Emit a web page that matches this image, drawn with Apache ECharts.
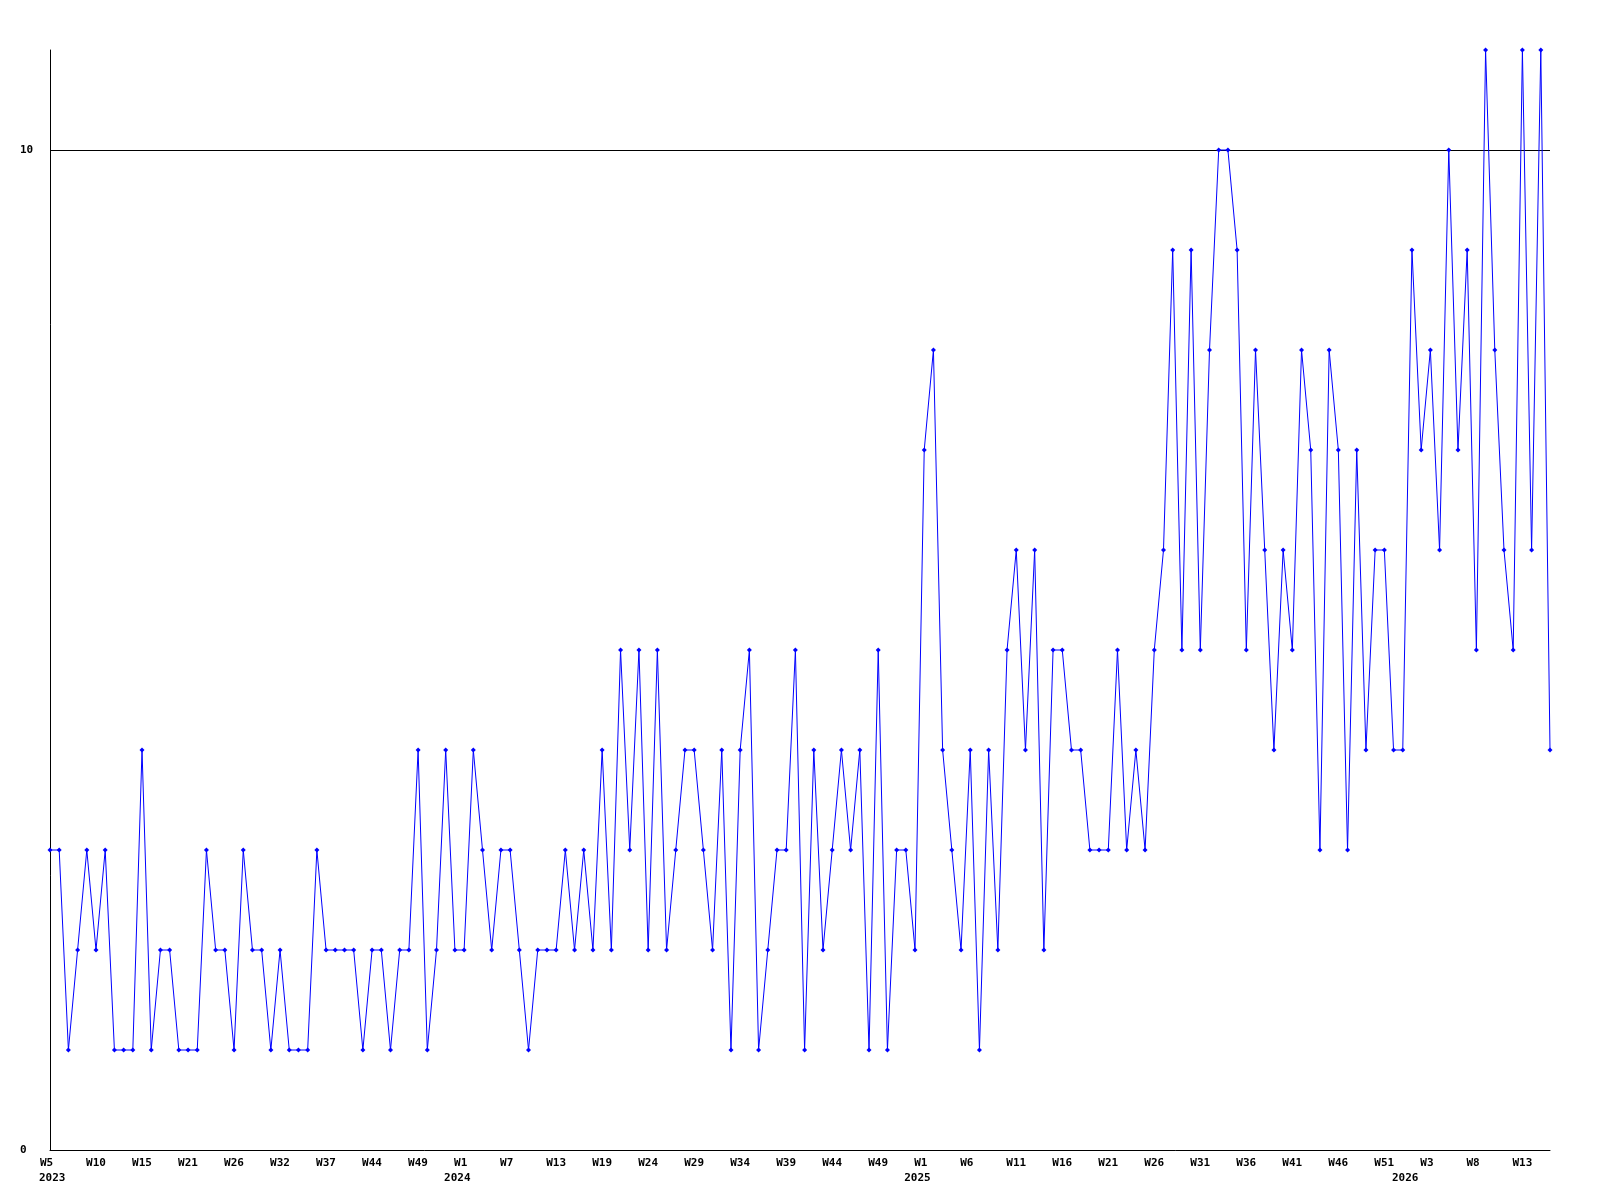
<!DOCTYPE html>
<html>
<head>
<meta charset="utf-8">
<script src="https://cdn.jsdelivr.net/npm/echarts@6/dist/echarts.min.js"></script>
<style>html,body{margin:0;padding:0;background:#fff}#c{width:1600px;height:1200px}</style>
</head>
<body>
<div id="c"></div>
<script>
// Weekly values, 2023 W5 onward (164 points)
const values = [
  3,3,1,2,3,2,3,1,1,1,
  4,1,2,2,1,1,1,3,2,2,
  1,3,2,2,1,2,1,1,1,3,
  2,2,2,2,1,2,2,1,2,2,
  4,1,2,4,2,2,4,3,2,3,
  3,2,1,2,2,2,3,2,3,2,
  4,2,5,3,5,2,5,2,3,4,
  4,3,2,4,1,4,5,1,2,3,
  3,5,1,4,2,3,4,3,4,1,
  5,1,3,3,2,7,8,4,3,2,
  4,1,4,2,5,6,4,6,2,5,
  5,4,4,3,3,3,5,3,4,3,
  5,6,9,5,9,5,8,10,10,9,
  5,8,6,4,6,5,8,7,3,8,
  7,3,7,4,6,6,4,4,9,7,
  8,6,10,7,9,5,11,8,6,5,
  11,6,11,4
];
// Week tick labels, one every 5 points
const tickLabels = ['W5','W10','W15','W21','W26','W32','W37','W44','W49','W1','W7','W13','W19','W24','W29','W34','W39','W44','W49','W1','W6','W11','W16','W21','W26','W31','W36','W41','W46','W51','W3','W8','W13'];
const tickEvery = 5;
// Year labels and the point index of the first week of each year
const yearLabels = ['2023','2024','2025','2026'];
const yearStarts = [0, 45, 95, 148];

const yMin = 0, yMax = 11, yStep = 10;

const categories = values.map((_, i) => String(i));
const font = { fontFamily: 'DejaVu Sans Mono', fontSize: 11, fontWeight: 'bold', color: '#000' };

const chart = echarts.init(document.getElementById('c'), null, { renderer: 'canvas' });
chart.setOption({
  animation: false,
  backgroundColor: '#fff',
  grid: { left: 50, right: 50, top: 50, bottom: 50, containLabel: false, outerBoundsMode: 'none' },
  xAxis: [
    {
      type: 'category',
      data: categories,
      boundaryGap: false,
      position: 'bottom',
      axisLine: { show: true, lineStyle: { color: '#000', width: 1 } },
      axisTick: { show: false },
      splitLine: { show: false },
      axisLabel: Object.assign({
        interval: (i) => i % tickEvery === 0,
        formatter: (v, i) => '{w|' + (tickLabels[i / tickEvery] || '') + '}',
        margin: 6,
        lineHeight: 15,
        rich: { w: Object.assign({ width: 20, align: 'left', lineHeight: 15 }, font) }
      }, font)
    },
    {
      type: 'category',
      data: categories,
      boundaryGap: false,
      position: 'bottom',
      offset: 0,
      axisLine: { show: false },
      axisTick: { show: false },
      splitLine: { show: false },
      axisLabel: Object.assign({
        interval: (i) => yearStarts.indexOf(i) >= 0,
        formatter: (v, i) => (i === 0 ? '{f|' : '{y|') + (yearLabels[yearStarts.indexOf(i)] || '') + '}',
        margin: 21,
        lineHeight: 15,
        rich: {
          y: Object.assign({ width: 40, align: 'left', lineHeight: 15 }, font),
          f: Object.assign({ width: 22, align: 'left', lineHeight: 15 }, font)
        }
      }, font)
    }
  ],
  yAxis: {
    type: 'value',
    min: yMin,
    max: yMax,
    interval: yStep,
    axisLine: { show: true, lineStyle: { color: '#000', width: 1 } },
    axisTick: { show: false },
    splitLine: { show: true, showMinLine: false, showMaxLine: false, lineStyle: { color: '#000', width: 1 } },
    axisLabel: Object.assign({
      showMaxLabel: false,
      align: 'left',
      margin: 30
    }, font)
  },
  series: [
    {
      type: 'line',
      data: values,
      xAxisIndex: 0,
      symbol: 'diamond',
      symbolSize: 5,
      showSymbol: true,
      showAllSymbol: true,
      itemStyle: { color: '#0000ff' },
      lineStyle: { color: '#0000ff', width: 1 },
      emphasis: { disabled: true }
    },
    {
      type: 'line',
      data: [],
      xAxisIndex: 1
    }
  ]
});
</script>
</body>
</html>
